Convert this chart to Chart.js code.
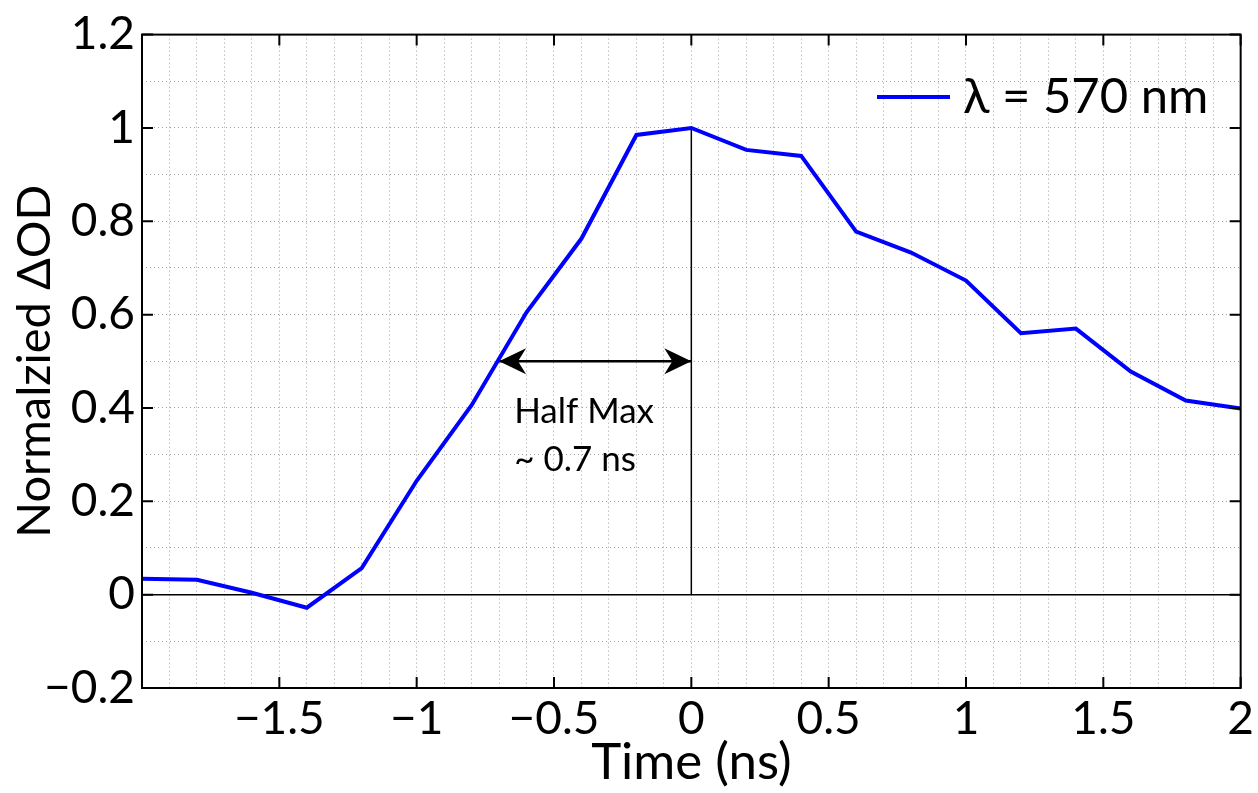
<!DOCTYPE html>
<html>
<head>
<meta charset="utf-8">
<title>Normalized ΔOD vs time</title>
<script src="https://cdn.jsdelivr.net/npm/chart.js@4/dist/chart.umd.min.js"></script>
<style>
  html, body { margin: 0; padding: 0; background: #ffffff; }
  #chart { display: block; }
</style>
</head>
<body>
<canvas id="chart" width="1258" height="793"></canvas>
<script>
// data
const timeNs = [-2, -1.8, -1.6, -1.4, -1.2, -1, -0.8, -0.6, -0.4, -0.2, 0,
                0.2, 0.4, 0.6, 0.8, 1, 1.2, 1.4, 1.6, 1.8, 2];
const deltaOD = [0.034, 0.032, 0.004, -0.028, 0.057, 0.244, 0.406, 0.605, 0.763, 0.985, 1.0,
                 0.953, 0.94, 0.778, 0.733, 0.673, 0.56, 0.57, 0.478, 0.416, 0.399];
const seriesLabel = 'λ = 570 nm';

const xMajorTicks = [-1.5, -1, -0.5, 0, 0.5, 1, 1.5, 2];
const yMajorTicks = [-0.2, 0, 0.2, 0.4, 0.6, 0.8, 1, 1.2];

// half-max marker
const halfMaxStart = -0.7;
const halfMaxEnd = 0;
const halfMaxLevel = 0.5;
const halfMaxText = ['Half Max', '~ 0.7 ns'];

const FONT = 'Lato, "Noto Sans", sans-serif';

function fmt(v) {
    const s = String(Number(v.toFixed(1)));
    return s.replace('-', '\u2212');
}

function isMajor(v, list) {
    return list.some(t => Math.abs(t - v) < 1e-6);
}

// draws the box, inward tick marks, arrows, text and legend
const decorations = {
    id: 'decorations',
    afterDatasetsDraw(chart) {
        const { ctx, scales: { x, y } } = chart;
        const yPx = y.getPixelForValue(halfMaxLevel);
        const x1 = x.getPixelForValue(halfMaxStart);
        const x2 = x.getPixelForValue(halfMaxEnd);

        ctx.save();
        ctx.fillStyle = '#000';
        const head = (tip, dir) => {
            const len = 27, half = 13, notch = 8;
            ctx.beginPath();
            ctx.moveTo(tip, yPx);
            ctx.lineTo(tip + dir * len, yPx - half);
            ctx.lineTo(tip + dir * (len - notch), yPx);
            ctx.lineTo(tip + dir * len, yPx + half);
            ctx.closePath();
            ctx.fill();
        };
        head(x1, 1);
        head(x2, -1);

        ctx.font = '35px ' + FONT;
        ctx.textBaseline = 'middle';
        ctx.textAlign = 'left';
        const tx = x.getPixelForValue(-0.645);
        ctx.fillText(halfMaxText[0], tx, y.getPixelForValue(0.393));
        ctx.fillText(halfMaxText[1], tx, y.getPixelForValue(0.29));
        ctx.restore();
    },
    afterDraw(chart) {
        const { ctx, chartArea: a, scales: { x, y } } = chart;
        ctx.save();
        ctx.strokeStyle = '#000';
        ctx.lineWidth = 2;
        ctx.strokeRect(a.left, a.top, a.right - a.left, a.bottom - a.top);

        const tl = 11;
        ctx.beginPath();
        xMajorTicks.forEach(v => {
            const px = x.getPixelForValue(v);
            ctx.moveTo(px, a.bottom); ctx.lineTo(px, a.bottom - tl);
            ctx.moveTo(px, a.top); ctx.lineTo(px, a.top + tl);
        });
        yMajorTicks.forEach(v => {
            const py = y.getPixelForValue(v);
            ctx.moveTo(a.left, py); ctx.lineTo(a.left + tl, py);
            ctx.moveTo(a.right, py); ctx.lineTo(a.right - tl, py);
        });
        ctx.stroke();

        // legend in the upper right corner
        const ds = chart.data.datasets[0];
        const ly = 97;
        ctx.strokeStyle = ds.borderColor;
        ctx.lineWidth = ds.borderWidth;
        ctx.beginPath();
        ctx.moveTo(877, ly);
        ctx.lineTo(950, ly);
        ctx.stroke();
        ctx.fillStyle = '#000';
        ctx.font = '49px ' + FONT;
        ctx.textBaseline = 'middle';
        ctx.textAlign = 'left';
        ctx.fillText(ds.label, 963, ly);
        ctx.restore();
    }
};

const gridStyle = {
    color: '#a0a0a0',
    lineWidth: 1,
    drawTicks: false
};

new Chart(document.getElementById('chart'), {
    type: 'line',
    data: {
        datasets: [{
            label: seriesLabel,
            data: timeNs.map((t, i) => ({ x: t, y: deltaOD[i] })),
            borderColor: '#0000ff',
            borderWidth: 4,
            pointRadius: 0,
            tension: 0
        }, {
            label: 'zero',
            data: [{ x: -2, y: 0 }, { x: 2, y: 0 }],
            borderColor: '#000',
            borderWidth: 1.5,
            pointRadius: 0
        }, {
            label: 'peak',
            data: [{ x: 0, y: 0 }, { x: 0, y: 1 }],
            borderColor: '#000',
            borderWidth: 1.5,
            pointRadius: 0
        }, {
            label: 'halfmax',
            data: [{ x: halfMaxStart, y: halfMaxLevel }, { x: halfMaxEnd, y: halfMaxLevel }],
            borderColor: '#000',
            borderWidth: 2.5,
            pointRadius: 0
        }]
    },
    options: {
        responsive: false,
        animation: false,
        devicePixelRatio: 1,
        layout: { padding: { left: 0, top: 32, right: 15, bottom: 0 } },
        plugins: {
            legend: { display: false },
            tooltip: { enabled: false }
        },
        scales: {
            x: {
                type: 'linear',
                min: -2,
                max: 2,
                afterFit: s => { s.height = 105; },
                border: { display: false, dash: [1, 3] },
                grid: gridStyle,
                ticks: {
                    stepSize: 0.1,
                    autoSkip: false,
                    maxRotation: 0,
                    padding: 4,
                    color: '#000',
                    font: { family: FONT, size: 46 },
                    callback: v => (isMajor(v, xMajorTicks) ? fmt(v) : '')
                },
                title: {
                    display: true,
                    text: 'Time (ns)',
                    color: '#000',
                    font: { family: FONT, size: 51 },
                    padding: { top: 0, bottom: 0 }
                }
            },
            y: {
                type: 'linear',
                min: -0.2,
                max: 1.2,
                afterFit: s => { s.width = 142; },
                border: { display: false, dash: [1, 3] },
                grid: gridStyle,
                ticks: {
                    stepSize: 0.1,
                    autoSkip: false,
                    padding: 7,
                    color: '#000',
                    font: { family: FONT, size: 46 },
                    callback: v => (isMajor(v, yMajorTicks) ? fmt(v) : '')
                },
                title: {
                    display: true,
                    text: 'Normalzied ΔOD',
                    color: '#000',
                    font: { family: FONT, size: 47 },
                    padding: { top: 7, bottom: 0 }
                }
            }
        }
    },
    plugins: [decorations]
});
</script>
</body>
</html>
